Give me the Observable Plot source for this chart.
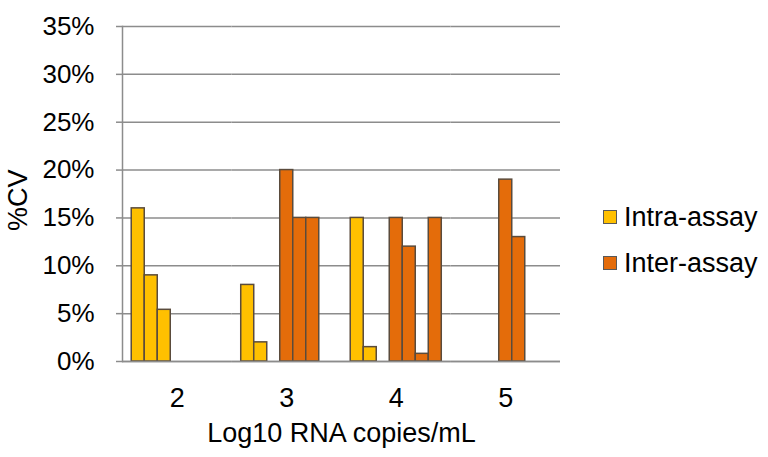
<!DOCTYPE html>
<html>
<head>
<meta charset="utf-8">
<script src="https://cdn.jsdelivr.net/npm/d3@7"></script>
<script src="https://cdn.jsdelivr.net/npm/@observablehq/plot@0.6"></script>
<style>
  html, body { margin: 0; padding: 0; background: #fff; }
  #wrap { position: relative; width: 768px; height: 457px; font-family: "Liberation Sans", Arial, sans-serif; }
  .legend { position: absolute; left: 603px; font-size: 27px; color: #000; display: flex; align-items: center; white-space: nowrap; }
  .legend .sw { width: 12px; height: 12px; border: 1.5px solid #595959; margin-right: 7px; }
</style>
</head>
<body>
<div id="wrap"></div>
<script>
// Data
const groups = ["2", "3", "4", "5"];
const seriesNames = ["Intra-assay", "Inter-assay"];
const seriesColors = ["#FFC000", "#E46C0A"];
const intraAssay = [[16, 9, 5.4], [8, 2], [15, 1.5], []];
const interAssay = [[], [20, 15, 15], [15, 12, 0.8, 15], [19, 13]];
const yTicks = [0, 5, 10, 15, 20, 25, 30, 35];
const xTitle = "Log10 RNA copies/mL";
const yTitle = "%CV";

const rows = [];
groups.forEach((g, gi) => {
  intraAssay[gi].forEach((v, i) => rows.push({group: g, slot: i, value: v, series: seriesNames[0]}));
  interAssay[gi].forEach((v, i) => rows.push({group: g, slot: 3 + i, value: v, series: seriesNames[1]}));
});

const axisColor = "#8c8c8c";
const chart = Plot.plot({
  width: 768,
  height: 457,
  marginLeft: 122,
  marginRight: 208,
  marginTop: 26,
  marginBottom: 96,
  style: {fontFamily: "Liberation Sans, Arial, sans-serif", fontSize: "26px", color: "#000", background: "#fff"},
  fx: {domain: groups, padding: 0, round: false},
  x: {domain: d3.range(7), paddingInner: 0, paddingOuter: 0.71, round: false, axis: null},
  y: {domain: [0, 35]},
  color: {domain: seriesNames, range: seriesColors},
  marks: [
    Plot.gridY(yTicks, {stroke: axisColor, strokeOpacity: 1, strokeWidth: 1.5}),
    Plot.barY(rows, {fx: "group", x: "slot", y: "value", fill: "series", stroke: "#5a4b3c", strokeWidth: 1.5}),
    Plot.ruleY([0], {stroke: axisColor, strokeWidth: 1.5}),
    Plot.frame({anchor: "left", facet: "super", stroke: axisColor, strokeWidth: 1.5}),
    Plot.axisY(yTicks, {tickFormat: d => d + "%", tickSize: 6, tickPadding: 22, stroke: axisColor, strokeWidth: 1.5, label: null, fontSize: 26}),
    Plot.axisFx({anchor: "bottom", tickSize: 0, tickPadding: 26, label: null, fontSize: 27}),
    Plot.text([yTitle], {facet: "super", frameAnchor: "left", dx: -104, dy: 37, rotate: -90, fontSize: 27, fill: "#000"}),
    Plot.text([xTitle], {facet: "super", frameAnchor: "bottom", dy: 80, fontSize: 27, fill: "#000"})
  ]
});

const wrap = document.getElementById("wrap");
wrap.appendChild(chart);
seriesNames.forEach((name, i) => {
  const d = document.createElement("div");
  d.className = "legend";
  d.style.top = (i === 0 ? 201 : 247) + "px";
  d.style.height = "32px";
  const sw = document.createElement("span");
  sw.className = "sw";
  sw.style.background = seriesColors[i];
  const t = document.createElement("span");
  t.textContent = name;
  d.appendChild(sw);
  d.appendChild(t);
  wrap.appendChild(d);
});
</script>
</body>
</html>
